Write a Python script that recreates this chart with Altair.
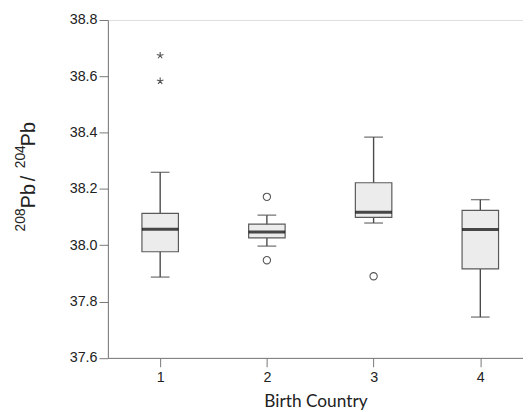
import altair as alt
import pandas as pd

countries = [1, 2, 3, 4]
whisk_lo = [37.887, 37.997, 38.079, 37.745]
q1 = [37.977, 38.026, 38.099, 37.916]
medians = [38.057, 38.047, 38.117, 38.056]
q3 = [38.113, 38.075, 38.222, 38.124]
whisk_hi = [38.259, 38.107, 38.384, 38.162]

star_country = [1, 1]
star_value = [38.674, 38.583]
circle_country = [2, 2, 3]
circle_value = [38.172, 37.947, 37.890]

box_df = pd.DataFrame({"country": countries, "lo": whisk_lo, "q1": q1,
                       "median": medians, "q3": q3, "hi": whisk_hi})
star_df = pd.DataFrame({"country": star_country, "value": star_value})
circ_df = pd.DataFrame({"country": circle_country, "value": circle_value})

FONT = "Liberation Sans"

xscale = alt.Scale(domain=[0.51, 4.40], nice=False, zero=False, padding=0)
yscale = alt.Scale(domain=[37.6, 38.8], nice=False, zero=False, padding=0)

xaxis = alt.Axis(values=[1, 2, 3, 4], format="d", title="Birth Country",
                 labelFont=FONT, labelFontSize=14.5, titleFont="Lato", titleFontSize=17.5)
yaxis = alt.Axis(values=[37.6, 37.8, 38.0, 38.2, 38.4, 38.6, 38.8], format=".1f", title=None,
                 labelFont=FONT, labelFontSize=14.5)

base = alt.Chart(box_df)
X = alt.X("country:Q", scale=xscale, axis=xaxis)

whisk = base.mark_rule(color="#4a4a4a", strokeWidth=1.4).encode(
    x=X, y=alt.Y("lo:Q", scale=yscale, axis=yaxis), y2="hi:Q")
lo_cap = base.mark_tick(orient="horizontal", size=19, thickness=1.4, color="#4a4a4a").encode(
    x=X, y=alt.Y("lo:Q", scale=yscale, axis=yaxis))
hi_cap = base.mark_tick(orient="horizontal", size=19, thickness=1.4, color="#4a4a4a").encode(
    x=X, y=alt.Y("hi:Q", scale=yscale, axis=yaxis))
box = base.mark_bar(size=37, fill="#ececec", stroke="#5a5a5a", strokeWidth=1.2).encode(
    x=X, y=alt.Y("q1:Q", scale=yscale, axis=yaxis), y2="q3:Q")
med = base.mark_tick(orient="horizontal", size=37, thickness=3, color="#000000").encode(
    x=X, y=alt.Y("median:Q", scale=yscale, axis=yaxis))

star_path = ("M0,0L0,-1M0,0L0.951,-0.309M0,0L0.588,0.809"
             "M0,0L-0.588,0.809M0,0L-0.951,-0.309")
stars = alt.Chart(star_df).mark_point(shape=star_path, size=50, filled=False,
                                      color="#555555", strokeWidth=1.1, opacity=1).encode(
    x=X, y=alt.Y("value:Q", scale=yscale, axis=yaxis))
circles = alt.Chart(circ_df).mark_point(shape="circle", size=55, filled=False,
                                        color="#555555", strokeWidth=1.1, opacity=1).encode(
    x=X, y=alt.Y("value:Q", scale=yscale, axis=yaxis))

one = alt.Data(values=[{"a": 1}])
def piece(txt, size, xpx, ypx):
    return alt.Chart(one).mark_text(text=txt, angle=270, fontSize=size,
                                    font=FONT, color="#222222",
                                    align="center", baseline="alphabetic").encode(
        x=alt.value(xpx), y=alt.value(ypx))

title_parts = [
    piece("208", 14, -84.3, 202.7),
    piece("Pb", 20, -74.3, 178.7),
    piece("/", 20, -74.3, 160.7),
    piece("204", 14, -84.3, 138.7),
    piece("Pb", 20, -74.3, 115.7),
]

chart = alt.layer(whisk, lo_cap, hi_cap, box, med, stars, circles, *title_parts).properties(
    width=421, height=342.7,
    autosize=alt.AutoSizeParams(type="none"),
    padding={"left": 101.3, "top": 9.3, "right": 0, "bottom": 52},
).configure_view(stroke=None).configure(background="white").configure_axis(
    grid=False, domainColor="#777777", domainWidth=1, tickColor="#777777", tickWidth=1,
    tickSize=9, labelFont=FONT, labelFontSize=14.5, labelColor="#222222",
    titleFont="Lato", titleFontSize=17.5, titleFontWeight="normal", titleColor="#222222",
).configure_axisX(labelPadding=4, titlePadding=9).configure_axisY(labelPadding=2)

chart.save("out.html", embed_options={"renderer": "svg", "actions": False})
